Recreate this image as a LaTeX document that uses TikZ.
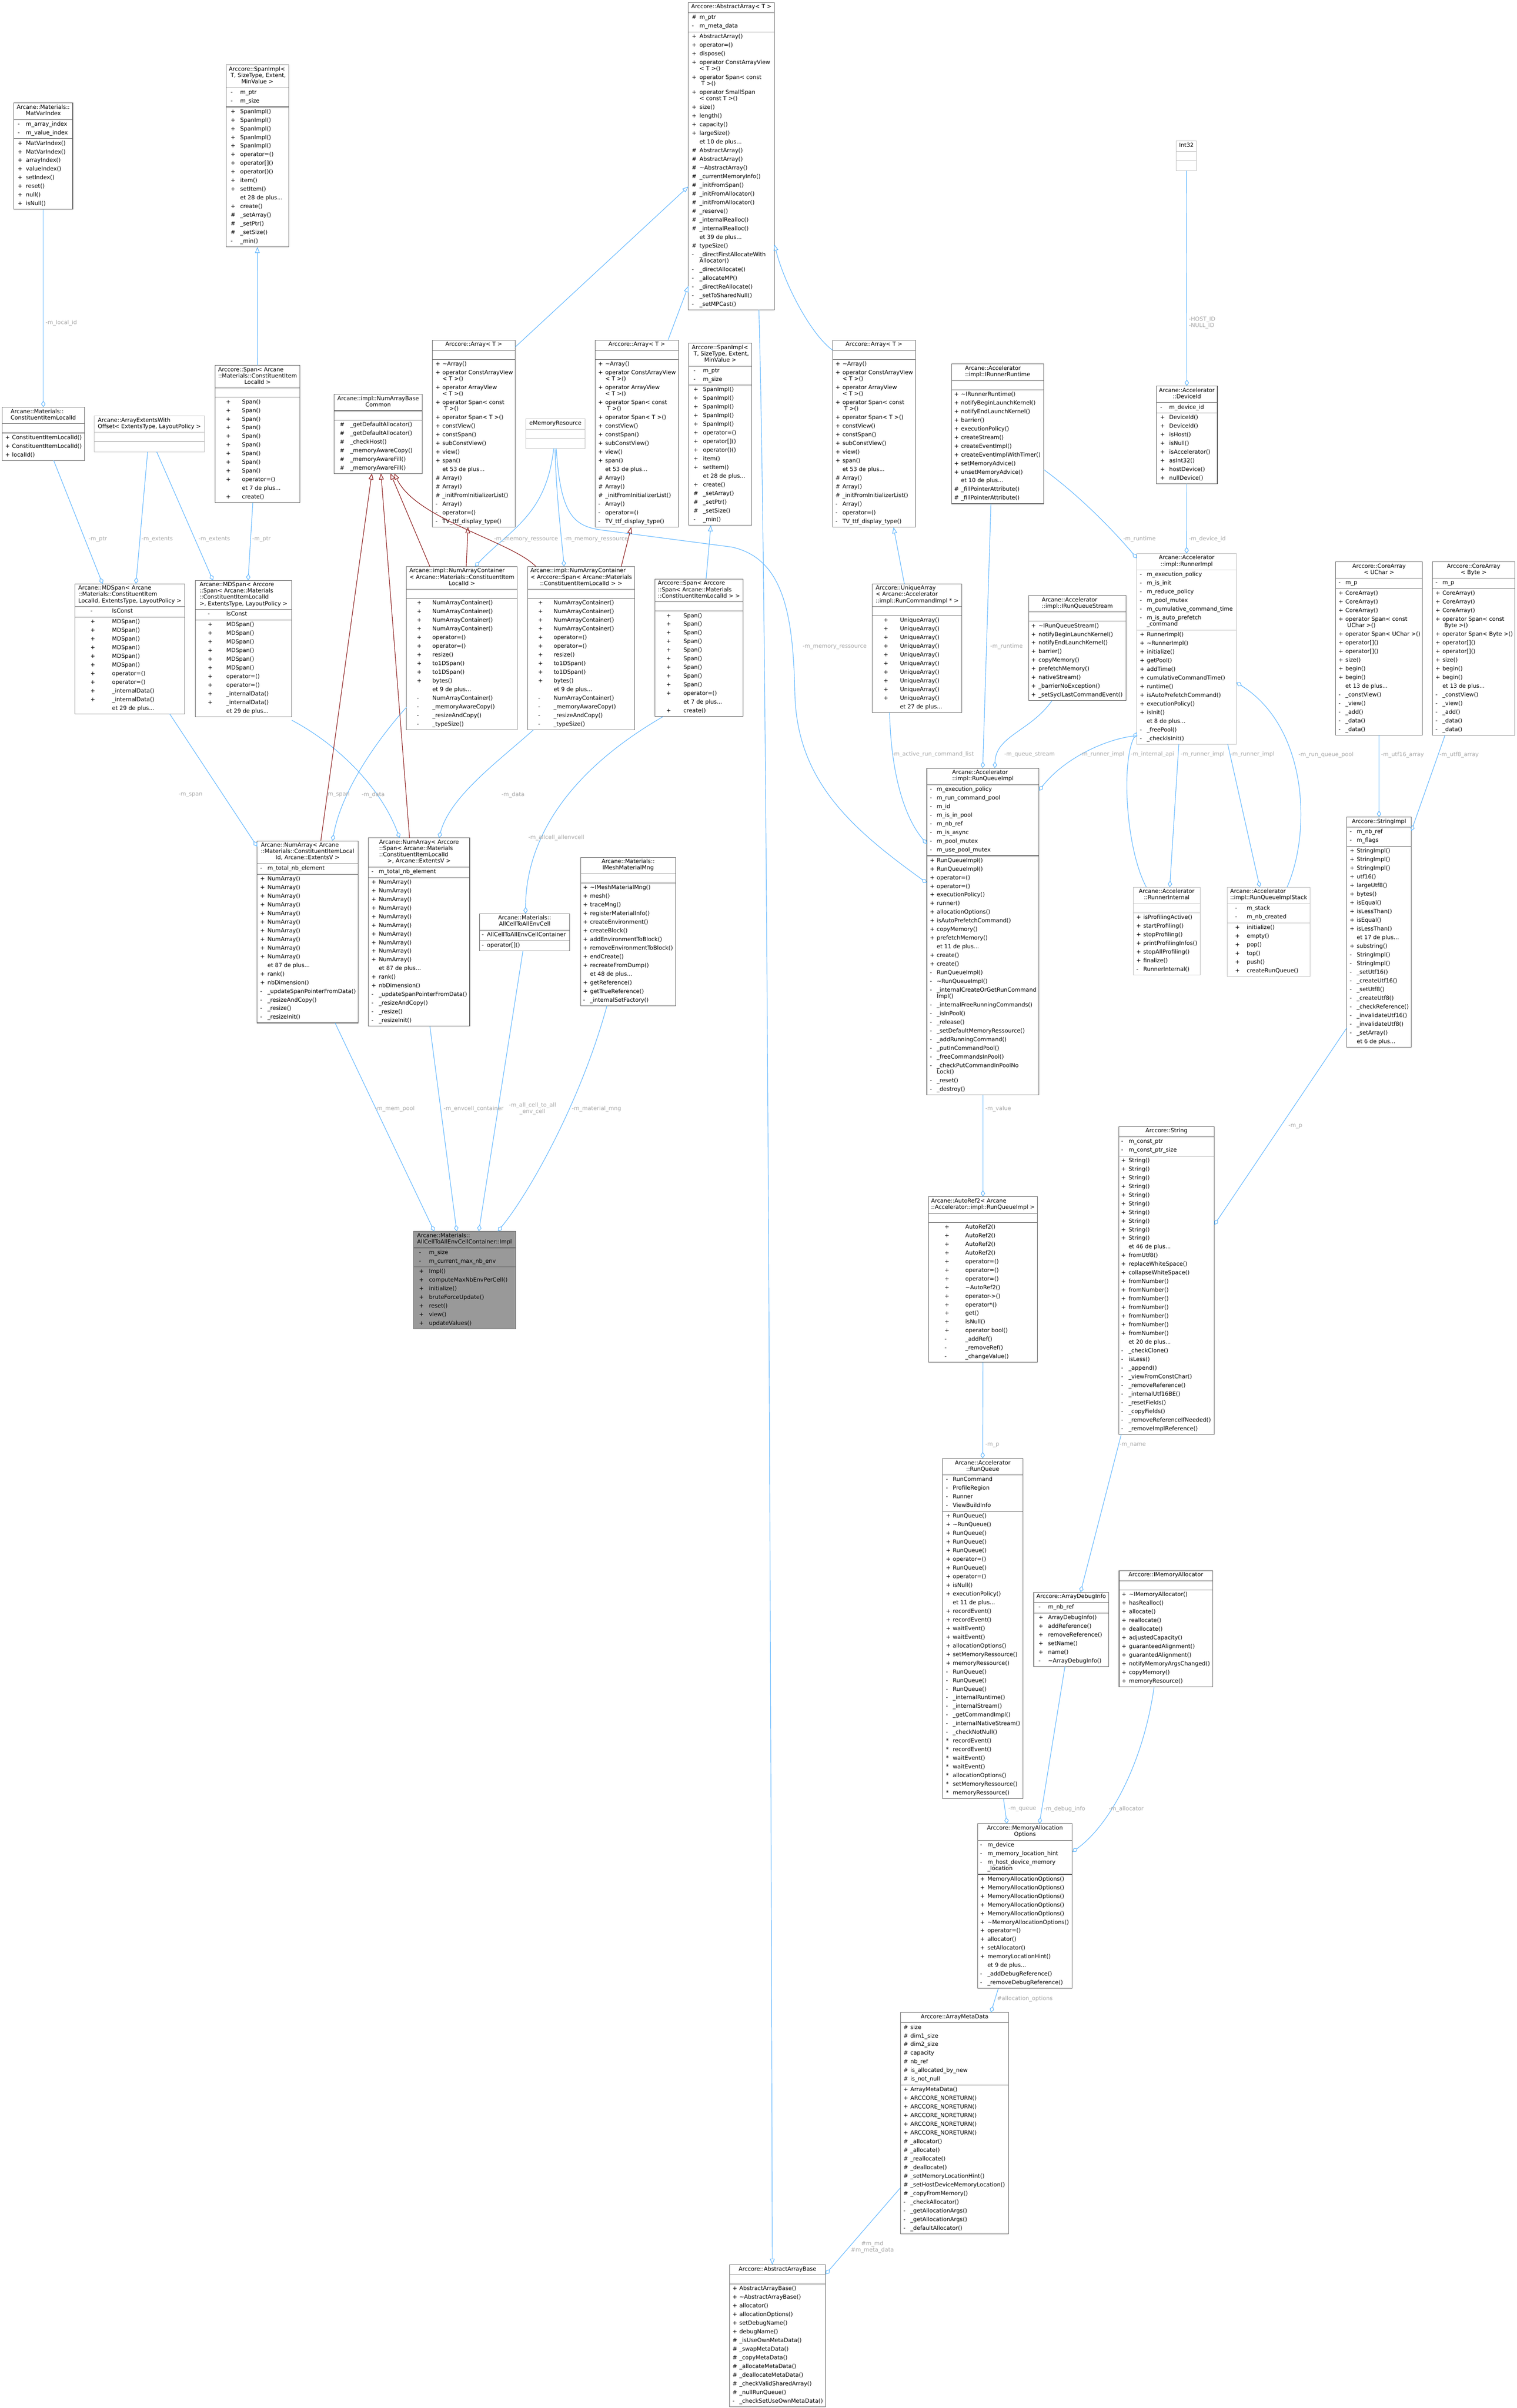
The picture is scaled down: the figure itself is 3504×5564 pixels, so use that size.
\documentclass[tikz,border=0pt]{standalone}
\usepackage{fontspec}
\setmainfont{DejaVu Sans}
\usetikzlibrary{arrows.meta}
\definecolor{boxdark}{HTML}{666666}
\definecolor{boxlight}{HTML}{BFBFBF}
\definecolor{edgeblue}{HTML}{63B8FF}
\definecolor{edgered}{HTML}{8B1A1A}
\definecolor{labgray}{HTML}{A8A8A8}
\definecolor{mainfill}{HTML}{999999}
\newcommand\HL{\noalign{\color{\bxc}\hrule height 1.2pt}}
\newcommand\SE{\noalign{\vskip3pt}\HL}
\newcommand\EN{\noalign{\vskip3pt}}
\newcommand\EM{\makebox[\bW]{}\\\HL}
\newcommand\EE{\makebox[\bW]{}\\}
\newcommand\M[2]{\makebox[\bW][l]{\makebox[\bN][l]{\hspace*{\bS}#1}#2}\\}
\newcommand\MW[3]{\makebox[\bW][l]{\makebox[\bN][l]{\hspace*{\bS}#1}#2}\\[-5.4pt]\makebox[\bW][l]{\hspace*{\bN}#3}\\}
\newcommand\Mp[1]{\makebox[\bW][l]{\hspace*{\bN}#1}\\}
\newcommand\TI[2]{\makebox[\bW][c]{\begin{tabular}[t]{@{}l@{}}#1\multicolumn{1}{@{}c@{}}{#2}\end{tabular}}\\}
\newcommand\cls[8]{\node[cbox,#7] (#1) at (#2,#3) {\def\bW{#4pt}\def\bS{#5pt}\def\bN{#6pt}\begin{tabular}{@{}l@{}}#8\end{tabular}};}
\newcommand\ArrRows{\M{+}{\textasciitilde Array()}\MW{+}{operator ConstArrayView}{< T >()}\MW{+}{operator ArrayView}{< T >()}\MW{+}{operator Span< const}{\ T >()}\M{+}{operator Span< T >()}\M{+}{constView()}\M{+}{constSpan()}\M{+}{subConstView()}\M{+}{view()}\M{+}{span()}\Mp{et 53 de plus...}\M{\#}{Array()}\M{\#}{Array()}\M{\#}{\_initFromInitializerList()}\M{-}{Array()}\M{-}{operator=()}\M{-}{TV\_ttf\_display\_type()}}
\newcommand\SpanImplRows{\M{-}{m\_ptr}\M{-}{m\_size}\SE\M{+}{SpanImpl()}\M{+}{SpanImpl()}\M{+}{SpanImpl()}\M{+}{SpanImpl()}\M{+}{SpanImpl()}\M{+}{operator=()}\M{+}{operator[]()}\M{+}{operator()()}\M{+}{item()}\M{+}{setItem()}\Mp{et 28 de plus...}\M{+}{create()}\M{\#}{\_setArray()}\M{\#}{\_setPtr()}\M{\#}{\_setSize()}\M{-}{\_min()}}
\newcommand\SpanRows{\M{+}{Span()}\M{+}{Span()}\M{+}{Span()}\M{+}{Span()}\M{+}{Span()}\M{+}{Span()}\M{+}{Span()}\M{+}{Span()}\M{+}{Span()}\M{+}{operator=()}\Mp{et 7 de plus...}\M{+}{create()}}
\newcommand\MDRows{\M{-}{IsConst}\SE\M{+}{MDSpan()}\M{+}{MDSpan()}\M{+}{MDSpan()}\M{+}{MDSpan()}\M{+}{MDSpan()}\M{+}{MDSpan()}\M{+}{operator=()}\M{+}{operator=()}\M{+}{\_internalData()}\M{+}{\_internalData()}\Mp{et 29 de plus...}}
\newcommand\NACRows{\M{+}{NumArrayContainer()}\M{+}{NumArrayContainer()}\M{+}{NumArrayContainer()}\M{+}{NumArrayContainer()}\M{+}{operator=()}\M{+}{operator=()}\M{+}{resize()}\M{+}{to1DSpan()}\M{+}{to1DSpan()}\M{+}{bytes()}\Mp{et 9 de plus...}\M{-}{NumArrayContainer()}\M{-}{\_memoryAwareCopy()}\M{-}{\_resizeAndCopy()}\M{-}{\_typeSize()}}
\newcommand\NARows{\M{-}{m\_total\_nb\_element}\SE\M{+}{NumArray()}\M{+}{NumArray()}\M{+}{NumArray()}\M{+}{NumArray()}\M{+}{NumArray()}\M{+}{NumArray()}\M{+}{NumArray()}\M{+}{NumArray()}\M{+}{NumArray()}\M{+}{NumArray()}\Mp{et 87 de plus...}\M{+}{rank()}\M{+}{nbDimension()}\M{-}{\_updateSpanPointerFromData()}\M{-}{\_resizeAndCopy()}\M{-}{\_resize()}\M{-}{\_resizeInit()}}
\newcommand\CARows[1]{\M{-}{m\_p}\SE\M{+}{CoreArray()}\M{+}{CoreArray()}\M{+}{CoreArray()}\MW{+}{operator Span< const}{\ #1 >()}\M{+}{operator Span< #1 >()}\M{+}{operator[]()}\M{+}{operator[]()}\M{+}{size()}\M{+}{begin()}\M{+}{begin()}\Mp{et 13 de plus...}\M{-}{\_constView()}\M{-}{\_view()}\M{-}{\_add()}\M{-}{\_data()}\M{-}{\_data()}}
\tikzset{
 cbox/.style={draw=boxdark, line width=1.2pt, inner sep=0pt, outer sep=0pt, anchor=north west, font=\fontsize{13}{20}\selectfont, execute at begin node={\def\bxc{boxdark}}},
 lightbox/.style={draw=boxlight, execute at begin node={\def\bxc{boxlight}}},
 mainbox/.style={fill=mainfill},
 agg/.style={draw=edgeblue, line width=1.3pt, -{Diamond[open,length=15pt,width=10pt]}},
 inh/.style={draw=edgeblue, line width=1.3pt, -{Triangle[open,length=14pt,width=11pt]}},
 inhr/.style={draw=edgered, line width=1.3pt, -{Triangle[open,length=14pt,width=11pt]}},
 lab/.style={font=\fontsize{13}{14.6}\selectfont, text=labgray, inner sep=1pt},
}
\begin{document}
\begin{tikzpicture}[x=1pt,y=-1pt]
\fill[white] (0,0) rectangle (3504,5564);
\useasboundingbox (0,0) rectangle (3504,5564);
% ---------------- classes
\cls{aa}{1590}{6}{199}{8}{26}{}{\TI{}{Arccore::AbstractArray< T >}\SE
\M{\#}{m\_ptr}\M{-}{m\_meta\_data}\SE
\M{+}{AbstractArray()}\M{+}{operator=()}\M{+}{dispose()}\MW{+}{operator ConstArrayView}{< T >()}\MW{+}{operator Span< const}{\ T >()}\MW{+}{operator SmallSpan}{< const T >()}\M{+}{size()}\M{+}{length()}\M{+}{capacity()}\M{+}{largeSize()}\Mp{et 10 de plus...}\M{\#}{AbstractArray()}\M{\#}{AbstractArray()}\M{\#}{\textasciitilde AbstractArray()}\M{\#}{\_currentMemoryInfo()}\M{\#}{\_initFromSpan()}\M{\#}{\_initFromAllocator()}\M{\#}{\_initFromAllocator()}\M{\#}{\_reserve()}\M{\#}{\_internalRealloc()}\M{\#}{\_internalRealloc()}\Mp{et 39 de plus...}\M{\#}{typeSize()}\MW{-}{\_directFirstAllocateWith}{Allocator()}\M{-}{\_directAllocate()}\M{-}{\_allocateMP()}\M{-}{\_directReAllocate()}\M{-}{\_setToSharedNull()}\M{-}{\_setMPCast()}\EN}
\cls{mvi}{32}{238}{136}{9}{28}{}{\TI{Arcane::Materials::\\[-5.4pt]}{MatVarIndex}\SE
\M{-}{m\_array\_index}\M{-}{m\_value\_index}\SE
\M{+}{MatVarIndex()}\M{+}{MatVarIndex()}\M{+}{arrayIndex()}\M{+}{valueIndex()}\M{+}{setIndex()}\M{+}{reset()}\M{+}{null()}\M{+}{isNull()}\EN}
\cls{si1}{522}{150}{145}{11}{33}{}{\TI{Arccore::SpanImpl<\\[-5.4pt]\ T, SizeType, Extent,\\[-5.4pt]}{MinValue >}\SE\SpanImplRows\EN}
\cls{cil}{5}{941}{190}{7}{23}{}{\TI{Arcane::Materials::\\[-5.4pt]}{ConstituentItemLocalId}\SE\EM
\M{+}{ConstituentItemLocalId()}\M{+}{ConstituentItemLocalId()}\M{+}{localId()}\EN}
\cls{aewo}{218}{961}{254}{7}{23}{lightbox}{\TI{Arcane::ArrayExtentsWith\\[-5.4pt]}{Offset< ExtentsType, LayoutPolicy >}\SE\EM\EE\EN}
\cls{spanA}{497}{844}{196}{25}{62}{}{\TI{Arccore::Span< Arcane\\[-5.4pt]::Materials::ConstituentItem\\[-5.4pt]}{LocalId >}\SE\EM\SpanRows\EN}
\cls{md1}{173}{1349}{254}{36}{86}{}{\TI{Arcane::MDSpan< Arcane\\[-5.4pt]::Materials::ConstituentItem\\[-5.4pt]}{LocalId, ExtentsType, LayoutPolicy >}\SE\MDRows\EN}
\cls{md2}{451}{1341}{223}{29}{72}{}{\TI{Arcane::MDSpan< Arccore\\[-5.4pt]::Span< Arcane::Materials\\[-5.4pt]::ConstituentItemLocalId\\[-5.4pt]}{>, ExtentsType, LayoutPolicy >}\SE\MDRows\EN}
\cls{nabc}{772}{911}{203}{13}{37}{}{\TI{Arcane::impl::NumArrayBase\\[-5.4pt]}{Common}\SE\EM
\M{\#}{\_getDefaultAllocator()}\M{\#}{\_getDefaultAllocator()}\M{\#}{\_checkHost()}\M{\#}{\_memoryAwareCopy()}\M{\#}{\_memoryAwareFill()}\M{\#}{\_memoryAwareFill()}\EN}
\cls{arr1}{999}{786}{191}{7}{23}{}{\TI{}{Arccore::Array< T >}\SE\EM\ArrRows\EN}
\cls{arr2}{1375}{786}{192}{7}{23}{}{\TI{}{Arccore::Array< T >}\SE\EM\ArrRows\EN}
\cls{arr3}{1923}{786}{192}{7}{23}{}{\TI{}{Arccore::Array< T >}\SE\EM\ArrRows\EN}
\cls{emr}{1215}{968}{136}{7}{23}{lightbox}{\TI{}{eMemoryResource}\SE\EM\EE\EN}
\cls{si2}{1591}{793}{146}{11}{33}{}{\TI{Arccore::SpanImpl<\\[-5.4pt]\ T, SizeType, Extent,\\[-5.4pt]}{MinValue >}\SE\SpanImplRows\EN}
\cls{nac1}{939}{1309}{256}{24}{60}{}{\TI{Arcane::impl::NumArrayContainer\\[-5.4pt]< Arcane::Materials::ConstituentItem\\[-5.4pt]}{LocalId >}\SE\EM\NACRows\EN}
\cls{nac2}{1219}{1309}{247}{24}{60}{}{\TI{Arcane::impl::NumArrayContainer\\[-5.4pt]< Arccore::Span< Arcane::Materials\\[-5.4pt]}{::ConstituentItemLocalId > >}\SE\EM\NACRows\EN}
\cls{spanB}{1513}{1338}{203}{26}{66}{}{\TI{Arccore::Span< Arccore\\[-5.4pt]::Span< Arcane::Materials\\[-5.4pt]}{::ConstituentItemLocalId > >}\SE\EM\SpanRows\EN}
\cls{irr}{2198}{841}{213}{6}{22}{}{\TI{Arcane::Accelerator\\[-5.4pt]}{::impl::IRunnerRuntime}\SE\EM
\M{+}{\textasciitilde IRunnerRuntime()}\M{+}{notifyBeginLaunchKernel()}\M{+}{notifyEndLaunchKernel()}\M{+}{barrier()}\M{+}{executionPolicy()}\M{+}{createStream()}\M{+}{createEventImpl()}\M{+}{createEventImplWithTimer()}\M{+}{setMemoryAdvice()}\M{+}{unsetMemoryAdvice()}\Mp{et 10 de plus...}\M{\#}{\_fillPointerAttribute()}\M{\#}{\_fillPointerAttribute()}\EN}
\cls{int32}{2717}{326}{47}{7}{23}{lightbox}{\TI{}{Int32}\SE\EM\EE\EN}
\cls{dev}{2671}{892}{141}{9}{30}{}{\TI{Arcane::Accelerator\\[-5.4pt]}{::DeviceId}\SE\M{-}{m\_device\_id}\SE
\M{+}{DeviceId()}\M{+}{DeviceId()}\M{+}{isHost()}\M{+}{isNull()}\M{+}{isAccelerator()}\M{+}{asInt32()}\M{+}{hostDevice()}\M{+}{nullDevice()}\EN}
\cls{rimpl}{2626}{1279}{230}{7}{23}{lightbox}{\TI{Arcane::Accelerator\\[-5.4pt]}{::impl::RunnerImpl}\SE
\M{-}{m\_execution\_policy}\M{-}{m\_is\_init}\M{-}{m\_reduce\_policy}\M{-}{m\_pool\_mutex}\M{-}{m\_cumulative\_command\_time}\MW{-}{m\_is\_auto\_prefetch}{\_command}\SE
\M{+}{RunnerImpl()}\M{+}{\textasciitilde RunnerImpl()}\M{+}{initialize()}\M{+}{getPool()}\M{+}{addTime()}\M{+}{cumulativeCommandTime()}\M{+}{runtime()}\M{+}{isAutoPrefetchCommand()}\M{+}{executionPolicy()}\M{+}{isInit()}\Mp{et 8 de plus...}\M{-}{\_freePool()}\M{-}{\_checkIsInit()}\EN}
\cls{ua}{2015}{1349}{207}{26}{64}{}{\TI{Arccore::UniqueArray\\[-5.4pt]< Arcane::Accelerator\\[-5.4pt]}{::impl::RunCommandImpl * >}\SE\EM
\M{+}{UniqueArray()}\M{+}{UniqueArray()}\M{+}{UniqueArray()}\M{+}{UniqueArray()}\M{+}{UniqueArray()}\M{+}{UniqueArray()}\M{+}{UniqueArray()}\M{+}{UniqueArray()}\M{+}{UniqueArray()}\M{+}{UniqueArray()}\Mp{et 27 de plus...}\EN}
\cls{irqs}{2376}{1376}{225}{6}{23}{}{\TI{Arcane::Accelerator\\[-5.4pt]}{::impl::IRunQueueStream}\SE\EM
\M{+}{\textasciitilde IRunQueueStream()}\M{+}{notifyBeginLaunchKernel()}\M{+}{notifyEndLaunchKernel()}\M{+}{barrier()}\M{+}{copyMemory()}\M{+}{prefetchMemory()}\M{+}{nativeStream()}\M{+}{\_barrierNoException()}\M{+}{\_setSyclLastCommandEvent()}\EN}
\cls{cau}{3085}{1298}{201}{7}{23}{}{\TI{Arccore::CoreArray\\[-5.4pt]}{< UChar >}\SE\CARows{UChar}\EN}
\cls{cab}{3309}{1298}{190}{7}{23}{}{\TI{Arccore::CoreArray\\[-5.4pt]}{< Byte >}\SE\CARows{Byte}\EN}
\cls{simpl}{3111}{1888}{149}{7}{23}{}{\TI{}{Arccore::StringImpl}\SE\M{-}{m\_nb\_ref}\M{-}{m\_flags}\SE
\M{+}{StringImpl()}\M{+}{StringImpl()}\M{+}{StringImpl()}\M{+}{utf16()}\M{+}{largeUtf8()}\M{+}{bytes()}\M{+}{isEqual()}\M{+}{isLessThan()}\M{+}{isEqual()}\M{+}{isLessThan()}\Mp{et 17 de plus...}\M{+}{substring()}\M{-}{StringImpl()}\M{-}{StringImpl()}\M{-}{\_setUtf16()}\M{-}{\_createUtf16()}\M{-}{\_setUtf8()}\M{-}{\_createUtf8()}\M{-}{\_checkReference()}\M{-}{\_invalidateUtf16()}\M{-}{\_invalidateUtf8()}\M{-}{\_setArray()}\Mp{et 6 de plus...}\EN}
\cls{rqi}{2141}{1775}{259}{7}{23}{}{\TI{Arcane::Accelerator\\[-5.4pt]}{::impl::RunQueueImpl}\SE
\M{-}{m\_execution\_policy}\M{-}{m\_run\_command\_pool}\M{-}{m\_id}\M{-}{m\_is\_in\_pool}\M{-}{m\_nb\_ref}\M{-}{m\_is\_async}\M{-}{m\_pool\_mutex}\M{-}{m\_use\_pool\_mutex}\SE
\M{+}{RunQueueImpl()}\M{+}{RunQueueImpl()}\M{+}{operator=()}\M{+}{operator=()}\M{+}{executionPolicy()}\M{+}{runner()}\M{+}{allocationOptions()}\M{+}{isAutoPrefetchCommand()}\M{+}{copyMemory()}\M{+}{prefetchMemory()}\Mp{et 11 de plus...}\M{+}{create()}\M{+}{create()}\M{-}{RunQueueImpl()}\M{-}{\textasciitilde RunQueueImpl()}\MW{-}{\_internalCreateOrGetRunCommand}{Impl()}\M{-}{\_internalFreeRunningCommands()}\M{-}{\_isInPool()}\M{-}{\_release()}\M{-}{\_setDefaultMemoryRessource()}\M{-}{\_addRunningCommand()}\M{-}{\_putInCommandPool()}\M{-}{\_freeCommandsInPool()}\MW{-}{\_checkPutCommandInPoolNo}{Lock()}\M{-}{\_reset()}\M{-}{\_destroy()}\EN}
\cls{rint}{2618}{2050}{154}{7}{23}{lightbox}{\TI{Arcane::Accelerator\\[-5.4pt]}{::RunnerInternal}\SE\EM
\M{+}{isProfilingActive()}\M{+}{startProfiling()}\M{+}{stopProfiling()}\M{+}{printProfilingInfos()}\M{+}{stopAllProfiling()}\M{+}{finalize()}\M{-}{RunnerInternal()}\EN}
\cls{rqis}{2835}{2050}{191}{18}{45}{lightbox}{\TI{Arcane::Accelerator\\[-5.4pt]}{::impl::RunQueueImplStack}\SE\M{-}{m\_stack}\M{-}{m\_nb\_created}\SE
\M{+}{initialize()}\M{+}{empty()}\M{+}{pop()}\M{+}{top()}\M{+}{push()}\M{+}{createRunQueue()}\EN}
\cls{na1}{594}{1943}{233}{7}{24}{}{\TI{Arcane::NumArray< Arcane\\[-5.4pt]::Materials::ConstituentItemLocal\\[-5.4pt]}{Id, Arcane::ExtentsV >}\SE\NARows\EN}
\cls{na2}{851}{1936}{234}{7}{24}{}{\TI{Arcane::NumArray< Arccore\\[-5.4pt]::Span< Arcane::Materials\\[-5.4pt]::ConstituentItemLocalId\\[-5.4pt]}{>, Arcane::ExtentsV >}\SE\NARows\EN}
\cls{acae}{1108}{2111}{208}{5}{17}{}{\TI{Arcane::Materials::\\[-5.4pt]}{AllCellToAllEnvCell}\SE\M{-}{AllCellToAllEnvCellContainer}\SE\M{-}{operator[]()}\EN}
\cls{immm}{1341}{1981}{220}{6}{22}{}{\TI{Arcane::Materials::\\[-5.4pt]}{IMeshMaterialMng}\SE\EM
\M{+}{\textasciitilde IMeshMaterialMng()}\M{+}{mesh()}\M{+}{traceMng()}\M{+}{registerMaterialInfo()}\M{+}{createEnvironment()}\M{+}{createBlock()}\M{+}{addEnvironmentToBlock()}\M{+}{removeEnvironmentToBlock()}\M{+}{endCreate()}\M{+}{recreateFromDump()}\Mp{et 48 de plus...}\M{+}{getReference()}\M{+}{getTrueReference()}\M{-}{\_internalSetFactory()}\EN}
\cls{main}{955}{2845}{236}{13}{36}{mainbox}{\TI{Arcane::Materials::\\[-5.4pt]}{AllCellToAllEnvCellContainer::Impl}\SE\M{-}{m\_size}\M{-}{m\_current\_max\_nb\_env}\SE
\M{+}{Impl()}\M{+}{computeMaxNbEnvPerCell()}\M{+}{initialize()}\M{+}{bruteForceUpdate()}\M{+}{reset()}\M{+}{view()}\M{+}{updateValues()}\EN}
\cls{ar2}{2145}{2765}{251}{37}{85}{}{\TI{Arcane::AutoRef2< Arcane\\[-5.4pt]}{::Accelerator::impl::RunQueueImpl >}\SE\EM
\M{+}{AutoRef2()}\M{+}{AutoRef2()}\M{+}{AutoRef2()}\M{+}{AutoRef2()}\M{+}{operator=()}\M{+}{operator=()}\M{+}{operator=()}\M{+}{\textasciitilde AutoRef2()}\M{+}{operator->()}\M{+}{operator*()}\M{+}{get()}\M{+}{isNull()}\M{+}{operator bool()}\M{-}{\_addRef()}\M{-}{\_removeRef()}\M{-}{\_changeValue()}\EN}
\cls{str}{2584}{2603}{221}{6}{23}{}{\TI{}{Arccore::String}\SE\M{-}{m\_const\_ptr}\M{-}{m\_const\_ptr\_size}\SE
\M{+}{String()}\M{+}{String()}\M{+}{String()}\M{+}{String()}\M{+}{String()}\M{+}{String()}\M{+}{String()}\M{+}{String()}\M{+}{String()}\M{+}{String()}\Mp{et 46 de plus...}\M{+}{fromUtf8()}\M{+}{replaceWhiteSpace()}\M{+}{collapseWhiteSpace()}\M{+}{fromNumber()}\M{+}{fromNumber()}\M{+}{fromNumber()}\M{+}{fromNumber()}\M{+}{fromNumber()}\M{+}{fromNumber()}\M{+}{fromNumber()}\Mp{et 20 de plus...}\M{-}{\_checkClone()}\M{-}{isLess()}\M{-}{\_append()}\M{-}{\_viewFromConstChar()}\M{-}{\_removeReference()}\M{-}{\_internalUtf16BE()}\M{-}{\_resetFields()}\M{-}{\_copyFields()}\M{-}{\_removeReferenceIfNeeded()}\M{-}{\_removeImplReference()}\EN}
\cls{rq}{2177}{3370}{186}{8}{24}{}{\TI{Arcane::Accelerator\\[-5.4pt]}{::RunQueue}\SE\M{-}{RunCommand}\M{-}{ProfileRegion}\M{-}{Runner}\M{-}{ViewBuildInfo}\SE
\M{+}{RunQueue()}\M{+}{\textasciitilde RunQueue()}\M{+}{RunQueue()}\M{+}{RunQueue()}\M{+}{RunQueue()}\M{+}{operator=()}\M{+}{RunQueue()}\M{+}{operator=()}\M{+}{isNull()}\M{+}{executionPolicy()}\Mp{et 11 de plus...}\M{+}{recordEvent()}\M{+}{recordEvent()}\M{+}{waitEvent()}\M{+}{waitEvent()}\M{+}{allocationOptions()}\M{+}{setMemoryRessource()}\M{+}{memoryRessource()}\M{-}{RunQueue()}\M{-}{RunQueue()}\M{-}{RunQueue()}\M{-}{\_internalRuntime()}\M{-}{\_internalStream()}\M{-}{\_getCommandImpl()}\M{-}{\_internalNativeStream()}\M{-}{\_checkNotNull()}\M{*}{recordEvent()}\M{*}{recordEvent()}\M{*}{waitEvent()}\M{*}{waitEvent()}\M{*}{allocationOptions()}\M{*}{setMemoryRessource()}\M{*}{memoryRessource()}\EN}
\cls{adi}{2388}{3679}{173}{11}{33}{}{\TI{}{Arccore::ArrayDebugInfo}\SE\M{-}{m\_nb\_ref}\SE
\M{+}{ArrayDebugInfo()}\M{+}{addReference()}\M{+}{removeReference()}\M{+}{setName()}\M{+}{name()}\M{-}{\textasciitilde ArrayDebugInfo()}\EN}
\cls{ima}{2585}{3629}{216}{6}{23}{}{\TI{}{Arccore::IMemoryAllocator}\SE\EM
\M{+}{\textasciitilde IMemoryAllocator()}\M{+}{hasRealloc()}\M{+}{allocate()}\M{+}{reallocate()}\M{+}{deallocate()}\M{+}{adjustedCapacity()}\M{+}{guaranteedAlignment()}\M{+}{guarantedAlignment()}\M{+}{notifyMemoryArgsChanged()}\M{+}{copyMemory()}\M{+}{memoryResource()}\EN}
\cls{mao}{2258}{4214}{219}{6}{23}{}{\TI{Arccore::MemoryAllocation\\[-5.4pt]}{Options}\SE\M{-}{m\_device}\M{-}{m\_memory\_location\_hint}\MW{-}{m\_host\_device\_memory}{\_location}\SE
\M{+}{MemoryAllocationOptions()}\M{+}{MemoryAllocationOptions()}\M{+}{MemoryAllocationOptions()}\M{+}{MemoryAllocationOptions()}\M{+}{MemoryAllocationOptions()}\M{+}{\textasciitilde MemoryAllocationOptions()}\M{+}{operator=()}\M{+}{allocator()}\M{+}{setAllocator()}\M{+}{memoryLocationHint()}\Mp{et 9 de plus...}\M{-}{\_addDebugReference()}\M{-}{\_removeDebugReference()}\EN}
\cls{amd}{2080}{4650}{250}{7}{23}{}{\TI{}{Arccore::ArrayMetaData}\SE\M{\#}{size}\M{\#}{dim1\_size}\M{\#}{dim2\_size}\M{\#}{capacity}\M{\#}{nb\_ref}\M{\#}{is\_allocated\_by\_new}\M{\#}{is\_not\_null}\SE
\M{+}{ArrayMetaData()}\M{+}{ARCCORE\_NORETURN()}\M{+}{ARCCORE\_NORETURN()}\M{+}{ARCCORE\_NORETURN()}\M{+}{ARCCORE\_NORETURN()}\M{+}{ARCCORE\_NORETURN()}\M{\#}{\_allocator()}\M{\#}{\_allocate()}\M{\#}{\_reallocate()}\M{\#}{\_deallocate()}\M{\#}{\_setMemoryLocationHint()}\M{\#}{\_setHostDeviceMemoryLocation()}\M{\#}{\_copyFromMemory()}\M{-}{\_checkAllocator()}\M{-}{\_getAllocationArgs()}\M{-}{\_getAllocationArgs()}\M{-}{\_defaultAllocator()}\EN}
\cls{aab}{1685}{5233}{222}{7}{23}{}{\TI{}{Arccore::AbstractArrayBase}\SE\EM
\M{+}{AbstractArrayBase()}\M{+}{\textasciitilde AbstractArrayBase()}\M{+}{allocator()}\M{+}{allocationOptions()}\M{+}{setDebugName()}\M{+}{debugName()}\M{\#}{\_isUseOwnMetaData()}\M{\#}{\_swapMetaData()}\M{\#}{\_copyMetaData()}\M{\#}{\_allocateMetaData()}\M{\#}{\_deallocateMetaData()}\M{\#}{\_checkValidSharedArray()}\M{\#}{\_nullRunQueue()}\M{-}{\_checkSetUseOwnMetaData()}\EN}
% ---------------- aggregation edges
\draw[agg] (mvi.south) -- (cil.north);
\draw[agg] ([xshift=119pt]cil.south west) -- ([xshift=64pt]md1.north west);
\draw[agg] ([xshift=123pt]aewo.south west) -- ([xshift=141pt]md1.north west);
\draw[agg] ([xshift=144pt]aewo.south west) -- ([xshift=41pt]md2.north west);
\draw[agg] ([xshift=87pt]spanA.south west) -- ([xshift=122pt]md2.north west);
\draw[agg] ([xshift=64pt]emr.south west) .. controls (1262,1190) and (1180,1222) .. ([xshift=158pt]nac1.north west);
\draw[agg] ([xshift=67pt]emr.south west) .. controls (1285,1150) and (1298,1250) .. ([xshift=84pt]nac2.north west);
\draw[agg] ([xshift=70pt]emr.south west) .. controls (1295,1200) and (1330,1218) .. (1400,1226) -- (1690,1264) .. controls (1810,1290) and (1832,1420) .. (1836,1600) .. controls (1840,1800) and (1960,1910) .. ([yshift=-265pt]rqi.north west);
\draw[agg] ([xshift=40pt]ua.south west) .. controls (2058,1790) and (2090,1890) .. ([yshift=-175pt]rqi.north west);
\draw[agg] ([xshift=91pt]irr.south west) -- ([xshift=129pt]rqi.north west);
\draw[agg] ([xshift=54pt]irqs.south west) .. controls (2380,1690) and (2300,1700) .. ([xshift=157pt]rqi.north west);
\draw[agg] ([yshift=-244pt]irr.north east) .. controls (2500,1150) and (2580,1235) .. ([yshift=-11pt]rimpl.north west);
\draw[agg] (dev.south) -- (rimpl.north);
\draw[agg] (int32.south) -- (dev.north);
\draw[agg] ([yshift=-421pt]rimpl.north west) .. controls (2560,1705) and (2460,1750) .. ([yshift=-52pt]rqi.north east);
\draw[agg] ([xshift=30pt]rint.north west) .. controls (2600,1960) and (2590,1760) .. ([yshift=-413pt]rimpl.north west);
\draw[agg] ([xshift=97pt]rimpl.south west) -- ([xshift=84pt]rint.north west);
\draw[agg] ([xshift=210pt]rimpl.south west) -- ([xshift=75pt]rqis.north west);
\draw[agg] ([xshift=138pt]rqis.north west) .. controls (3030,1920) and (3020,1680) .. ([yshift=-298pt]rimpl.north east);
\draw[agg] (rqi.south) -- (ar2.north);
\draw[agg] (ar2.south) -- (rq.north);
\draw[agg] ([xshift=6pt]str.south west) -- ([xshift=108pt]adi.north west);
\draw[agg] ([yshift=-487pt]simpl.north west) -- ([yshift=-227pt]str.north east);
\draw[agg] (cau.south) -- (simpl.north);
\draw[agg] ([xshift=29pt]cab.south west) -- ([yshift=-32pt]simpl.north east);
\draw[agg] ([xshift=141pt]rq.south west) -- ([xshift=68pt]mao.north west);
\draw[agg] ([xshift=72pt]adi.south west) -- ([xshift=143pt]mao.north west);
\draw[agg] ([xshift=81pt]ima.south west) .. controls (2640,4080) and (2560,4220) .. ([yshift=-65pt]mao.north east);
\draw[agg] ([xshift=48pt]mao.south west) -- ([xshift=209pt]amd.north west);
\draw[agg] ([yshift=-405pt]amd.north west) -- ([yshift=-22pt]aab.north east);
\draw[agg] ([xshift=219pt]md1.south west) -- ([yshift=-13pt]na1.north west);
\draw[agg] ([yshift=-325pt]nac1.north west) .. controls (880,1700) and (790,1820) .. ([xshift=174pt]na1.north west);
\draw[agg] ([yshift=-8pt]md2.south east) .. controls (780,1720) and (880,1820) .. ([xshift=72pt]na2.north west);
\draw[agg] ([xshift=13pt]nac2.south west) .. controls (1150,1760) and (1040,1840) .. ([xshift=163pt]na2.north west);
\draw[agg] ([xshift=19pt]spanB.south west) .. controls (1300,1790) and (1214,1950) .. ([xshift=106pt]acae.north west);
\draw[agg] ([xshift=180pt]na1.south west) -- ([xshift=48pt]main.north west);
\draw[agg] ([xshift=142pt]na2.south west) -- ([xshift=100pt]main.north west);
\draw[agg] ([xshift=100pt]acae.south west) -- ([xshift=151pt]main.north west);
\draw[agg] ([xshift=61pt]immm.south west) .. controls (1340,2550) and (1220,2760) .. ([xshift=195pt]main.north west);
% ---------------- inheritance edges
\draw[inh] ([xshift=163pt]aa.south west) .. controls (1775,1500) and (1782,4500) .. ([xshift=99pt]aab.north west);
\draw[inh] ([yshift=-16pt]arr1.north east) -- ([yshift=-425pt]aa.north west);
\draw[inh] ([xshift=168pt]arr2.north west) -- ([yshift=-655pt]aa.north west);
\draw[inh] ([yshift=-23pt]arr3.north west) .. controls (1870,770) and (1810,650) .. ([yshift=-559pt]aa.north east);
\draw[inh] ([xshift=74pt]ua.north west) -- ([xshift=141pt]arr3.south west);
\draw[inh] (spanA.north) -- (si1.south);
\draw[inh] ([xshift=118pt]spanB.north west) -- ([xshift=51pt]si2.south west);
\draw[inhr] ([xshift=138pt]nac1.north west) -- ([xshift=82pt]arr1.south west);
\draw[inhr] ([xshift=216pt]nac2.north west) -- ([xshift=83pt]arr2.south west);
\draw[inhr] ([xshift=147pt]na1.north west) -- ([xshift=87pt]nabc.south west);
\draw[inhr] ([xshift=95pt]na2.north west) -- ([xshift=108pt]nabc.south west);
\draw[inhr] ([xshift=54pt]nac1.north west) -- ([xshift=130pt]nabc.south west);
\draw[inhr] ([xshift=19pt]nac2.north west) .. controls (1180,1250) and (960,1200) .. ([xshift=139pt]nabc.south west);
% ---------------- labels
\node[lab,anchor=west] (l1) at (104,746) {-m\_local\_id};
\node[lab] (l2) at (226,1246) {-m\_ptr};
\node[lab] (l3) at (363,1246) {-m\_extents};
\node[lab] (l4) at (495,1246) {-m\_extents};
\node[lab] (l5) at (604,1246) {-m\_ptr};
\node[lab] (l6) at (1215,1247) {-m\_memory\_ressource};
\node[lab] (l7) at (1377,1247) {-m\_memory\_ressource};
\node[lab] (l8) at (1928,1495) {-m\_memory\_ressource};
\node[lab] (l9) at (440,1837) {-m\_span};
\node[lab] (l10) at (780,1837) {-m\_span};
\node[lab] (l11) at (862,1837) {-m\_data};
\node[lab] (l12) at (1185,1837) {-m\_data};
\node[lab] (l13) at (1285,1936) {-m\_allcell\_allenvcell};
\node[lab] (l14) at (912,2562) {-m\_mem\_pool};
\node[lab] (l15) at (1094,2562) {-m\_envcell\_container};
\node[lab,align=center] (l16) at (1230,2562) {-m\_all\_cell\_to\_all\\\_env\_cell};
\node[lab] (l17) at (1378,2562) {-m\_material\_mng};
\node[lab] (l18) at (2325,1494) {-m\_runtime};
\node[lab] (l19) at (2632,1246) {-m\_runtime};
\node[lab,anchor=west] (l20) at (2745,1246) {-m\_device\_id};
\node[lab,anchor=west,align=left] (l21) at (2745,746) {-HOST\_ID\\-NULL\_ID};
\node[lab] (l22) at (2155,1743) {-m\_active\_run\_command\_list};
\node[lab] (l23) at (2378,1743) {-m\_queue\_stream};
\node[lab] (l24) at (2546,1743) {-m\_runner\_impl};
\node[lab] (l25) at (2662,1743) {-m\_internal\_api};
\node[lab] (l26) at (2778,1743) {-m\_runner\_impl};
\node[lab] (l27) at (2893,1743) {-m\_runner\_impl};
\node[lab] (l28) at (3063,1744) {-m\_run\_queue\_pool};
\node[lab,anchor=west] (l29) at (3189,1744) {-m\_utf16\_array};
\node[lab,anchor=west] (l30) at (3324,1744) {-m\_utf8\_array};
\node[lab,anchor=west] (l31) at (2275,2562) {-m\_value};
\node[lab,anchor=west] (l32) at (2275,3339) {-m\_p};
\node[lab,anchor=west] (l33) at (2585,3339) {-m\_name};
\node[lab,anchor=west] (l34) at (2975,2602) {-m\_p};
\node[lab,anchor=west] (l35) at (2328,4180) {-m\_queue};
\node[lab,anchor=west] (l36) at (2410,4180) {-m\_debug\_info};
\node[lab,anchor=west] (l37) at (2560,4180) {-m\_allocator};
\node[lab,anchor=west] (l38) at (2302,4618) {\#allocation\_options};
\node[lab,align=center] (l39) at (2015,5192) {\#m\_md\\\#m\_meta\_data};
\end{tikzpicture}
\end{document}
